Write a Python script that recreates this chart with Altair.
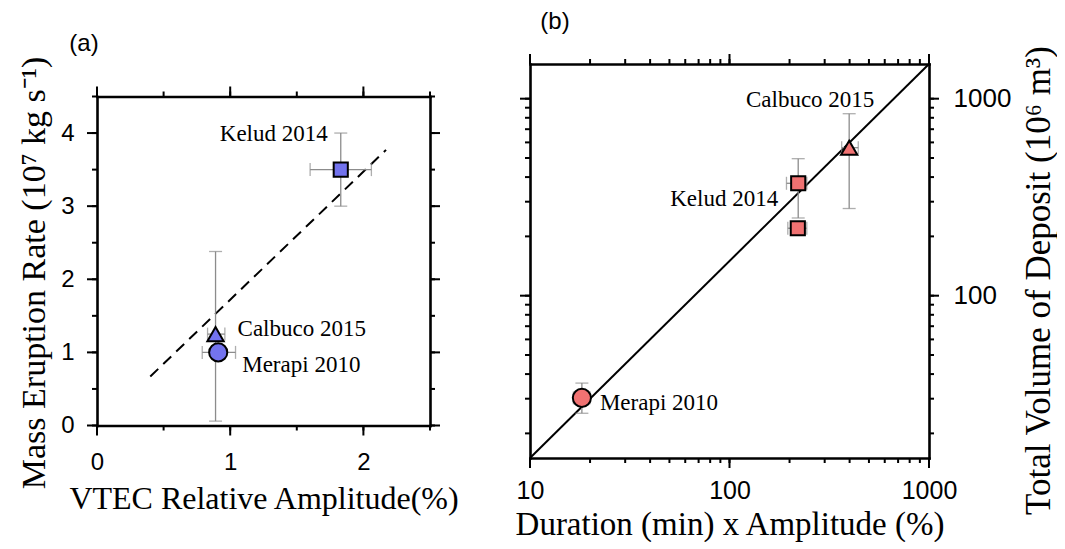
import altair as alt
import pandas as pd

# ---------------- data: panel (a) ----------------
a_names = ["Kelud 2014", "Calbuco 2015", "Merapi 2010"]
a_vtec = [1.83, 0.89, 0.91]
a_mer = [3.5, 1.25, 1.0]
a_vtec_lo = [1.60, 0.83, 0.79]
a_vtec_hi = [2.06, 0.96, 1.04]
a_mer_lo = [3.0, 0.06, 1.0]
a_mer_hi = [4.0, 2.38, 1.0]
a_fit_x = [0.40, 2.17]
a_fit_y = [0.67, 3.77]
a_major_x = [0, 1, 2]
a_minor_x = [0, 0.5, 1, 1.5, 2, 2.5]
a_major_y = [0, 1, 2, 3, 4]
a_minor_y = [0, 0.5, 1, 1.5, 2, 2.5, 3, 3.5, 4, 4.5]

# ---------------- data: panel (b) ----------------
b_names = ["Merapi 2010", "Kelud 2014", "Kelud 2014", "Calbuco 2015"]
b_labels = ["Merapi 2010", "Kelud 2014", "", "Calbuco 2015"]
b_dur_amp = [18.2, 221, 220, 398]
b_volume = [30.3, 372, 220, 564]
b_x_lo = [16.5, 193, 196, 365]
b_x_hi = [20.0, 244, 244, 442]
b_y_lo = [25.3, 248, 220, 277]
b_y_hi = [36.0, 496, 220, 839]
b_fit_x = [10, 1000]
b_fit_y = [15, 1500]
b_major_x = [10, 100, 1000]
b_minor_x = [10, 20, 30, 40, 50, 60, 70, 80, 90,
             100, 200, 300, 400, 500, 600, 700, 800, 900, 1000]
b_major_y = [100, 1000]
b_minor_y = [20, 30, 40, 50, 60, 70, 80, 90,
             100, 200, 300, 400, 500, 600, 700, 800, 900, 1000]

panel_tags = ["(a)", "(b)"]

# ---------------- styles ----------------
BLUE = "#7373ee"
RED = "#f07272"
GRAY = "#8c8c8c"
SERIF = "Liberation Serif"
SANS = "Liberation Sans"
VOLCANOES = ["Kelud", "Calbuco", "Merapi"]
SHAPES = ["square", "triangle-up", "circle"]
MAJOR_LEN, MINOR_LEN, TICK_W = 10, 5, 2


def frame_axis(orient, values, labels=True, title=None, title_size=32,
               label_size=24, **extra):
    kw = dict(orient=orient, values=values, grid=False,
              domain=True, domainColor="black", domainWidth=2.6, domainCap="square",
              ticks=False, labels=labels, title=title)
    if labels:
        kw.update(labelFont=SANS, labelFontSize=label_size, labelColor="black",
                  format="d", labelFlush=False, labelOverlap=False)
    if title:
        kw.update(titleFont=SERIF, titleFontSize=title_size, titleFontWeight="normal",
                  titleColor="black")
    kw.update(extra)
    return alt.Axis(**kw)


def tick_layers(major_x, minor_x, major_y, minor_y, XF, YF, W, H):
    """Outward tick marks on all four sides, positioned by the panel's scales."""
    layers = []
    for vals, ln in ((major_x, MAJOR_LEN), (minor_x, MINOR_LEN)):
        src = alt.Chart(pd.DataFrame({"v": vals}))
        layers.append(src.mark_rule(color="black", strokeWidth=TICK_W).encode(
            x=XF("v"), y=alt.value(H), y2=alt.value(H + ln)))
        layers.append(src.mark_rule(color="black", strokeWidth=TICK_W).encode(
            x=XF("v"), y=alt.value(0), y2=alt.value(-ln)))
    for vals, ln in ((major_y, MAJOR_LEN), (minor_y, MINOR_LEN)):
        src = alt.Chart(pd.DataFrame({"v": vals}))
        layers.append(src.mark_rule(color="black", strokeWidth=TICK_W).encode(
            y=YF("v"), x=alt.value(0), x2=alt.value(-ln)))
        layers.append(src.mark_rule(color="black", strokeWidth=TICK_W).encode(
            y=YF("v"), x=alt.value(W), x2=alt.value(W + ln)))
    return layers


# ================= panel (a) =================
WA, HA = 333, 329
dfa = pd.DataFrame({"name": a_names, "x": a_vtec, "y": a_mer,
                    "xlo": a_vtec_lo, "xhi": a_vtec_hi,
                    "ylo": a_mer_lo, "yhi": a_mer_hi})
dfa["volcano"] = dfa["name"].str.split().str[0]
fita = pd.DataFrame({"x": a_fit_x, "y": a_fit_y})

xs_a = alt.Scale(domain=[0, 2.5], nice=False, zero=False)
ys_a = alt.Scale(domain=[0, 4.5], nice=False, zero=False)


def XA(field, axis=None):
    return alt.X(field, type="quantitative", scale=xs_a, axis=axis)


def YA(field, axis=None):
    return alt.Y(field, type="quantitative", scale=ys_a, axis=axis)


base_a = alt.Chart(dfa)

fit_line_a = alt.Chart(fita).mark_line(
    color="black", strokeWidth=2, strokeDash=[11, 7]
).encode(
    x=XA("x", frame_axis("bottom", a_major_x, title="VTEC Relative Amplitude(%)",
                         title_size=32, labelPadding=25, titlePadding=9)),
    y=YA("y", frame_axis("left", a_major_y,
                         title="Mass Eruption Rate (10\u2077 kg s\u207b\u00b9)",
                         title_size=34, labelPadding=23, titleAngle=270,
                         titleAlign="center", titleBaseline="alphabetic",
                         titleX=-53, titleY=176)),
)

vbar_a = base_a.transform_filter("datum.ylo < datum.yhi").mark_rule(
    color=GRAY, strokeWidth=1.3
).encode(x=XA("x"), y=YA("ylo"), y2="yhi:Q")
vcap_a = base_a.transform_filter("datum.ylo < datum.yhi").transform_fold(
    ["ylo", "yhi"], as_=["k", "yv"]
).mark_tick(orient="horizontal", size=13, thickness=1.3, color=GRAY).encode(
    x=XA("x"), y=YA("yv"))
hbar_a = base_a.mark_rule(color=GRAY, strokeWidth=1.3).encode(
    x=XA("xlo", frame_axis("top", a_major_x, labels=False)), x2="xhi:Q",
    y=YA("y", frame_axis("right", a_major_y, labels=False)))
hcap_a = base_a.transform_fold(["xlo", "xhi"], as_=["k", "xv"]).mark_tick(
    orient="vertical", size=13, thickness=1.3, color=GRAY).encode(
    x=XA("xv"), y=YA("y"))

pts_a = base_a.mark_point(filled=True, fill=BLUE, stroke="black",
                          strokeWidth=2, opacity=1, fillOpacity=1).encode(
    x=XA("x"), y=YA("y"),
    shape=alt.Shape("volcano:N", scale=alt.Scale(domain=VOLCANOES, range=SHAPES), legend=None),
    size=alt.Size("volcano:N", scale=alt.Scale(domain=VOLCANOES, range=[200, 330, 270]), legend=None),
)

label_specs_a = [
    ("Kelud 2014", "right", -13, -36),
    ("Calbuco 2015", "left", 22, -5),
    ("Merapi 2010", "left", 24, 13),
]
labels_a = [
    base_a.transform_filter(alt.datum.name == nm).mark_text(
        font=SERIF, fontSize=23, color="black", align=al, baseline="middle", dx=dx, dy=dy
    ).encode(x=XA("x"), y=YA("y"), text="name:N")
    for nm, al, dx, dy in label_specs_a
]

tag_a = alt.Chart(pd.DataFrame({"t": [panel_tags[0]]})).mark_text(
    font=SANS, fontSize=24, color="black", align="center", baseline="middle"
).encode(text="t:N", x=alt.value(-13), y=alt.value(-53))

ticks_a = tick_layers(a_major_x, a_minor_x, a_major_y, a_minor_y, XA, YA, WA, HA)

panel_a = alt.layer(fit_line_a, hbar_a, *ticks_a, vbar_a, vcap_a, hcap_a, pts_a,
                    *labels_a, tag_a).resolve_axis(
    x="independent", y="independent").properties(width=WA, height=HA)

# ================= panel (b) =================
WB, HB = 399, 394
dfb = pd.DataFrame({"name": b_names, "label": b_labels, "x": b_dur_amp, "y": b_volume,
                    "xlo": b_x_lo, "xhi": b_x_hi, "ylo": b_y_lo, "yhi": b_y_hi})
dfb["volcano"] = dfb["name"].str.split().str[0]
fitb = pd.DataFrame({"x": b_fit_x, "y": b_fit_y})

xs_b = alt.Scale(type="log", domain=[10, 1000], nice=False)
ys_b = alt.Scale(type="log", domain=[15, 1500], nice=False)


def XB(field, axis=None):
    return alt.X(field, type="quantitative", scale=xs_b, axis=axis)


def YB(field, axis=None):
    return alt.Y(field, type="quantitative", scale=ys_b, axis=axis)


base_b = alt.Chart(dfb)

fit_line_b = alt.Chart(fitb).mark_line(color="black", strokeWidth=2).encode(
    x=XB("x", frame_axis("bottom", b_major_x, title="Duration (min) x Amplitude (%)",
                         title_size=33, label_size=25, labelPadding=20, titlePadding=5)),
    y=YB("y", frame_axis("right", b_major_y,
                         title="Total Volume of Deposit (10\u2076 m\u00b3)",
                         title_size=35, label_size=26, labelPadding=24,
                         titleAngle=270, titleAlign="center",
                         titleBaseline="alphabetic", titleX=120, titleY=216)),
)

vbar_b = base_b.transform_filter("datum.ylo < datum.yhi").mark_rule(
    color=GRAY, strokeWidth=1.3).encode(x=XB("x"), y=YB("ylo"), y2="yhi:Q")
vcap_b = base_b.transform_filter("datum.ylo < datum.yhi").transform_fold(
    ["ylo", "yhi"], as_=["k", "yv"]
).mark_tick(orient="horizontal", size=13, thickness=1.3, color=GRAY).encode(
    x=XB("x"), y=YB("yv"))
hbar_b = base_b.mark_rule(color=GRAY, strokeWidth=1.3).encode(
    x=XB("xlo", frame_axis("top", b_major_x, labels=False)), x2="xhi:Q",
    y=YB("y", frame_axis("left", b_major_y, labels=False)))
hcap_b = base_b.transform_fold(["xlo", "xhi"], as_=["k", "xv"]).mark_tick(
    orient="vertical", size=13, thickness=1.3, color=GRAY).encode(
    x=XB("xv"), y=YB("y"))

pts_b = base_b.mark_point(filled=True, fill=RED, stroke="black",
                          strokeWidth=2, opacity=1, fillOpacity=1).encode(
    x=XB("x"), y=YB("y"),
    shape=alt.Shape("volcano:N", scale=alt.Scale(domain=VOLCANOES, range=SHAPES), legend=None),
    size=alt.Size("volcano:N", scale=alt.Scale(domain=VOLCANOES, range=[180, 360, 260]), legend=None),
)

label_specs_b = [
    ("Calbuco 2015", "center", -39, -48),
    ("Kelud 2014", "right", -20, 16),
    ("Merapi 2010", "left", 18, 5),
]
labels_b = [
    base_b.transform_filter(alt.datum.label == nm).mark_text(
        font=SERIF, fontSize=23, color="black", align=al, baseline="middle", dx=dx, dy=dy
    ).encode(x=XB("x"), y=YB("y"), text="label:N")
    for nm, al, dx, dy in label_specs_b
]

tag_b = alt.Chart(pd.DataFrame({"t": [panel_tags[1]]})).mark_text(
    font=SANS, fontSize=24, color="black", align="center", baseline="middle"
).encode(text="t:N", x=alt.value(25), y=alt.value(-42))

ticks_b = tick_layers(b_major_x, b_minor_x, b_major_y, b_minor_y, XB, YB, WB, HB)

panel_b = alt.layer(fit_line_b, hbar_b, *ticks_b, vbar_b, vcap_b, hcap_b, pts_b,
                    *labels_b, tag_b).resolve_axis(
    x="independent", y="independent").properties(width=WB, height=HB)

chart = alt.hconcat(panel_a, panel_b, spacing=100, bounds="flush", center=True).properties(
    padding={"left": 8, "top": 1, "right": 0, "bottom": 0}
).configure_view(stroke=None).configure(background="white")

chart.save("out.html", embed_options={"renderer": "svg", "actions": False})
